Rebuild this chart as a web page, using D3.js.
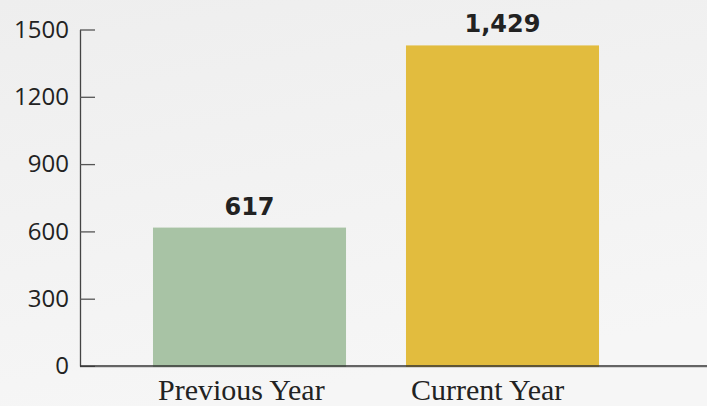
<!DOCTYPE html>
<html>
<head>
<meta charset="utf-8">
<script src="https://cdn.jsdelivr.net/npm/d3@7"></script>
<style>
  html, body { margin: 0; padding: 0; }
  #chart { width: 707px; height: 406px; }
</style>
</head>
<body>
<div id="chart"></div>
<script>
// chart data
const categories = ["Previous Year", "Current Year"];
const values = [617, 1429];
const valueLabels = ["617", "1,429"];
const barColors = ["#a8c3a5", "#e2bc3e"];
const yTicks = [0, 300, 600, 900, 1200, 1500];

const width = 707, height = 406;

const svg = d3.select("#chart")
  .append("svg")
  .attr("width", width)
  .attr("height", height);

// background gradient
const defs = svg.append("defs");
const grad = defs.append("linearGradient")
  .attr("id", "bg")
  .attr("x1", "0").attr("y1", "0")
  .attr("x2", "0.3").attr("y2", "1");
grad.append("stop").attr("offset", "0%").attr("stop-color", "#eeeeee");
grad.append("stop").attr("offset", "100%").attr("stop-color", "#f6f6f6");

svg.append("rect")
  .attr("width", width)
  .attr("height", height)
  .attr("fill", "url(#bg)");

// scales
const x = d3.scaleBand()
  .domain(categories)
  .range([80, 672])
  .paddingInner(0.237)
  .paddingOuter(0.2885);

const y = d3.scaleLinear()
  .domain([0, 1500])
  .range([366, 29.5]);

// bars
svg.selectAll(".bar")
  .data(categories)
  .join("rect")
  .attr("class", "bar")
  .attr("x", d => x(d))
  .attr("y", (d, i) => y(values[i]))
  .attr("width", x.bandwidth())
  .attr("height", (d, i) => y(0) - y(values[i]) + 1)
  .attr("fill", (d, i) => barColors[i]);

// value labels
svg.selectAll(".val")
  .data(categories)
  .join("text")
  .attr("class", "val")
  .attr("x", d => x(d) + x.bandwidth() / 2)
  .attr("y", (d, i) => y(values[i]) - 13)
  .attr("text-anchor", "middle")
  .style("font-family", "'DejaVu Sans', sans-serif")
  .style("font-weight", "bold")
  .style("font-size", "24px")
  .style("fill", "#222")
  .text((d, i) => valueLabels[i]);

// y axis (ticks point inward, no thousands separator)
const yAxis = svg.append("g")
  .attr("transform", "translate(80,0)")
  .call(d3.axisLeft(y)
    .tickValues(yTicks)
    .tickFormat(d3.format("d"))
    .tickSize(-15)
    .tickSizeOuter(0)
    .tickPadding(11));

yAxis.select(".domain").attr("stroke", "#444").attr("stroke-width", 1.3);
yAxis.selectAll(".tick line").attr("stroke", "#555").attr("stroke-width", 1.3);
yAxis.selectAll(".tick text")
  .style("font-family", "'Open Sans', sans-serif")
  .style("font-size", "24px")
  .style("fill", "#222");

// x axis line
svg.append("line")
  .attr("x1", 80).attr("x2", width)
  .attr("y1", y(0)).attr("y2", y(0))
  .attr("stroke", "#333")
  .attr("stroke-width", 1.4);
svg.append("line")
  .attr("x1", 80).attr("x2", width)
  .attr("y1", y(0) + 1.5).attr("y2", y(0) + 1.5)
  .attr("stroke", "#d4d4d4")
  .attr("stroke-width", 1);

// category labels
svg.selectAll(".cat")
  .data(categories)
  .join("text")
  .attr("class", "cat")
  .attr("x", d => x(d) + 5)
  .attr("y", 400)
  .style("font-family", "'Liberation Serif', serif")
  .style("font-size", "30px")
  .style("fill", "#222")
  .text(d => d);
</script>
</body>
</html>
